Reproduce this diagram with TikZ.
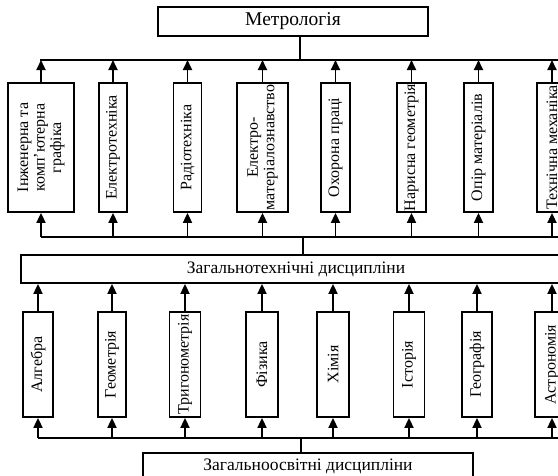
\documentclass[tikz,border=0pt]{standalone}
\usepackage{fontspec}
\setmainfont{Liberation Serif}
\usetikzlibrary{arrows.meta}
\newcommand{\fs}{\fontsize{16}{16.5}\selectfont}
\newcommand{\fh}{\fontsize{17.5}{18}\selectfont}
\newcommand{\fm}{\fontsize{19.5}{20}\selectfont}
\tikzset{
  box/.style={draw, line width=1.8pt, rectangle, inner sep=0pt, font=\fs},
  hbox/.style={box, font=\fh},
  vbox/.style={box, rotate=90, align=center},
  arr/.style={line width=1.8pt, -{Triangle[length=10pt,width=9pt]}},
  ln/.style={line width=1.8pt}
}
\begin{document}
\begin{tikzpicture}[x=1pt,y=1pt]
\useasboundingbox (0,0) rectangle (558,-475);
\clip (0,0) rectangle (558,-475);
% top box
\node[hbox, font=\fm, minimum width=270pt, minimum height=29pt] (m) at (293,-21.5) {Метрологія};
\coordinate (b1L) at (40,-60);
\coordinate (b1R) at (570,-60);
\draw[ln] (b1L) -- (b1R);
\draw[ln] ([xshift=7pt]m.south) -- ([xshift=7pt]m.south |- b1L);
% upper boxes
\node[vbox, minimum width=129pt, minimum height=66pt] (u1) at (41,-147.5) {Інженерна та\\комп’ютерна\\графіка};
\node[vbox, minimum width=129pt, minimum height=28pt] (u2) at (113,-147.5) {Електротехніка};
\node[vbox, minimum width=129pt, minimum height=28pt] (u3) at (187.5,-147.5) {Радіотехніка};
\node[vbox, minimum width=129pt, minimum height=51pt] (u4) at (262.5,-147.5) {Електро-\\матеріалознавство};
\node[vbox, minimum width=129pt, minimum height=29pt] (u5) at (335.5,-147.5) {Охорона праці};
\node[vbox, minimum width=129pt, minimum height=29pt] (u6) at (411.5,-147.5) {Нарисна геометрія};
\node[vbox, minimum width=129pt, minimum height=29pt] (u7) at (478.5,-147.5) {Опір матеріалів};
\node[vbox, minimum width=129pt, minimum height=30pt] (u8) at (552,-147.5) {Технічна механіка};
\coordinate (b2L) at (41,-237);
\coordinate (b2R) at (570,-237);
\draw[ln] (b2L) -- (b2R);
\foreach \n in {u1,u2,u3,u4,u5,u6,u7,u8}{
  \draw[arr] (\n.east) -- (\n.east |- b1L);
  \draw[arr] (\n.west |- b2L) -- (\n.west);
}
% middle box
\node[hbox, minimum width=550pt, minimum height=28pt] (zt) at (296,-269) {Загальнотехнічні дисципліни};
\draw[ln] (zt.north -| 303,0) -- (b2L -| 303,0);
% lower boxes
\node[vbox, minimum width=105pt, minimum height=30pt] (l1) at (38,-364.5) {Алгебра};
\node[vbox, minimum width=105pt, minimum height=28pt] (l2) at (112,-364.5) {Геометрія};
\node[vbox, minimum width=105pt, minimum height=31pt] (l3) at (185,-364.5) {Тригонометрія};
\node[vbox, minimum width=105pt, minimum height=32pt] (l4) at (262,-364.5) {Фізика};
\node[vbox, minimum width=105pt, minimum height=32pt] (l5) at (333,-364.5) {Хімія};
\node[vbox, minimum width=105pt, minimum height=31pt] (l6) at (409,-364.5) {Історія};
\node[vbox, minimum width=105pt, minimum height=30pt] (l7) at (477,-364.5) {Географія};
\node[vbox, minimum width=105pt, minimum height=34pt] (l8) at (552,-364.5) {Астрономія};
\coordinate (b3L) at (38,-438);
\coordinate (b3R) at (570,-438);
\draw[ln] (b3L) -- (b3R);
\foreach \n in {l1,l2,l3,l4,l5,l6,l7,l8}{
  \draw[arr] (\n.east) -- (\n.east |- zt.south);
  \draw[arr] (\n.west |- b3L) -- (\n.west);
}
% bottom box
\node[hbox, minimum width=330pt, minimum height=28pt] (zo) at (308,-467) {\raisebox{5pt}{Загальноосвітні дисципліни}};
\draw[ln] (zo.north -| 301,0) -- (b3L -| 301,0);
\end{tikzpicture}
\end{document}
